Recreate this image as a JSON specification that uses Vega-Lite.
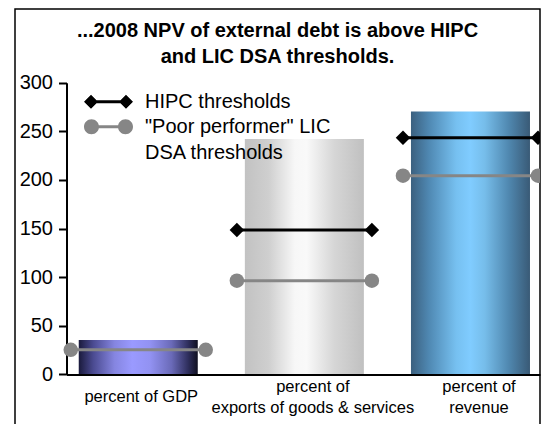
{
  "$schema": "https://vega.github.io/schema/vega-lite/v6.json",
  "autosize": {"type": "none"},
  "padding": {"left": 15, "top": 9, "right": 4, "bottom": 0},
  "width": 525,
  "height": 415,
  "background": "#ffffff",
  "config": {
    "font": "Liberation Sans",
    "view": {"stroke": "#000000", "strokeWidth": 1.5, "strokeDash": [940, 525, 415]},
    "axis": {"grid": false, "labelFont": "Liberation Sans", "labelColor": "#000000", "domainColor": "#000000", "tickColor": "#000000"},
    "style": {"guide-label": {"lineHeight": 26.5}}
  },
  "title": {
    "text": ["...2008 NPV of external debt is above HIPC", "and LIC DSA thresholds."],
    "font": "Liberation Sans",
    "fontSize": 20,
    "fontWeight": "bold",
    "color": "#000000",
    "anchor": "middle",
    "frame": "group",
    "lineHeight": 26,
    "offset": -58
  },
  "datasets": {
    "npv": [
      {"measure": "percent of GDP", "label": "percent of GDP", "npv": 35.4},
      {"measure": "percent of exports of goods & services", "label": "percent of\nexports of goods & services", "npv": 242},
      {"measure": "percent of revenue", "label": "percent of\nrevenue", "npv": 270.5}
    ],
    "thresholds": [
      {"measure": "percent of GDP", "series": "\"Poor performer\" LIC DSA thresholds", "threshold": 25.3},
      {"measure": "percent of exports of goods & services", "series": "HIPC thresholds", "threshold": 148.5},
      {"measure": "percent of exports of goods & services", "series": "\"Poor performer\" LIC DSA thresholds", "threshold": 96.4},
      {"measure": "percent of revenue", "series": "HIPC thresholds", "threshold": 243.4},
      {"measure": "percent of revenue", "series": "\"Poor performer\" LIC DSA thresholds", "threshold": 204.4}
    ]
  },
  "encoding": {
    "x": {
      "field": "measure",
      "type": "nominal",
      "sort": null,
      "scale": {"range": [51.5, 525], "paddingInner": 0.2835, "paddingOuter": 0.067, "align": 0.55},
      "axis": {
        "title": null,
        "orient": "bottom",
        "offset": -49.6,
        "zindex": 1,
        "ticks": false,
        "labels": false,
        "domainWidth": 2
      }
    },
    "y": {
      "type": "quantitative",
      "scale": {"domain": [0, 300], "range": [365.4, 73.7], "nice": false, "zero": true},
      "axis": {
        "title": null,
        "offset": -51.5,
        "values": [0, 50, 100, 150, 200, 250, 300],
        "domainWidth": 2,
        "tickWidth": 2,
        "tickSize": 8,
        "labelFontSize": 20,
        "labelPadding": 6,
        "labelBaseline": "middle"
      }
    }
  },
  "layer": [
    {
      "data": {"name": "npv"},
      "transform": [{"filter": "datum.measure == 'percent of GDP'"}],
      "mark": {
        "type": "bar",
        "color": {
          "gradient": "linear", "x1": 0, "x2": 1, "y1": 0, "y2": 0,
          "stops": [
            {"offset": 0, "color": "#1a1a3c"},
            {"offset": 0.12, "color": "#4a4a90"},
            {"offset": 0.3, "color": "#8585e0"},
            {"offset": 0.45, "color": "#9a9aff"},
            {"offset": 0.6, "color": "#9292f2"},
            {"offset": 0.78, "color": "#6a6ab8"},
            {"offset": 0.92, "color": "#2e2e5c"},
            {"offset": 1, "color": "#101020"}
          ]
        }
      },
      "encoding": {"y": {"field": "npv", "type": "quantitative"}}
    },
    {
      "data": {"name": "npv"},
      "transform": [{"filter": "datum.measure == 'percent of exports of goods & services'"}],
      "mark": {
        "type": "bar",
        "color": {
          "gradient": "linear", "x1": 0, "x2": 1, "y1": 0, "y2": 0,
          "stops": [
            {"offset": 0, "color": "#c2c2c2"},
            {"offset": 0.2, "color": "#cfcfcf"},
            {"offset": 0.42, "color": "#f7f7f7"},
            {"offset": 0.52, "color": "#f9f9f9"},
            {"offset": 0.75, "color": "#d6d6d6"},
            {"offset": 1, "color": "#c0c0c0"}
          ]
        }
      },
      "encoding": {"y": {"field": "npv", "type": "quantitative"}}
    },
    {
      "data": {"name": "npv"},
      "transform": [{"filter": "datum.measure == 'percent of revenue'"}],
      "mark": {
        "type": "bar",
        "color": {
          "gradient": "linear", "x1": 0, "x2": 1, "y1": 0, "y2": 0,
          "stops": [
            {"offset": 0, "color": "#3b607f"},
            {"offset": 0.15, "color": "#4f88b2"},
            {"offset": 0.38, "color": "#76c0f0"},
            {"offset": 0.5, "color": "#80ccff"},
            {"offset": 0.62, "color": "#76bdea"},
            {"offset": 0.82, "color": "#5088b0"},
            {"offset": 1, "color": "#395a76"}
          ]
        }
      },
      "encoding": {"y": {"field": "npv", "type": "quantitative"}}
    },
    {
      "data": {"name": "npv"},
      "transform": [{"filter": "datum.measure == 'percent of GDP'"}],
      "mark": {"type": "text", "font": "Liberation Sans", "fontSize": 16.5, "color": "#000000", "baseline": "middle", "align": "center", "dx": 3, "dy": 22.6},
      "encoding": {"y": {"datum": 0}, "text": {"field": "label", "type": "nominal"}}
    },
    {
      "data": {"name": "npv"},
      "transform": [{"filter": "datum.measure != 'percent of GDP'"}],
      "mark": {"type": "text", "font": "Liberation Sans", "fontSize": 16.5, "color": "#000000", "baseline": "middle", "align": "center", "dx": 8.5, "dy": 12.3, "lineBreak": "\n", "lineHeight": 21.3},
      "encoding": {"y": {"datum": 0}, "text": {"field": "label", "type": "nominal"}}
    },
    {
      "data": {"name": "thresholds"},
      "mark": {"type": "tick", "size": 135, "thickness": 3, "opacity": 1, "clip": true},
      "encoding": {
        "y": {"field": "threshold", "type": "quantitative"},
        "color": {"condition": {"test": "datum.series == 'HIPC thresholds'", "value": "#000000"}, "value": "#868686"}
      }
    },
    {
      "data": {"name": "thresholds"},
      "mark": {"type": "point", "filled": true, "opacity": 1, "size": 210, "xOffset": -67.5, "clip": true},
      "encoding": {
        "y": {"field": "threshold", "type": "quantitative"},
        "color": {"condition": {"test": "datum.series == 'HIPC thresholds'", "value": "#000000"}, "value": "#868686"},
        "shape": {"condition": {"test": "datum.series == 'HIPC thresholds'", "value": "diamond"}, "value": "circle"}
      }
    },
    {
      "data": {"name": "thresholds"},
      "mark": {"type": "point", "filled": true, "opacity": 1, "size": 210, "xOffset": 67.5, "clip": true},
      "encoding": {
        "y": {"field": "threshold", "type": "quantitative"},
        "color": {"condition": {"test": "datum.series == 'HIPC thresholds'", "value": "#000000"}, "value": "#868686"},
        "shape": {"condition": {"test": "datum.series == 'HIPC thresholds'", "value": "diamond"}, "value": "circle"}
      }
    },
    {
      "data": {"name": "thresholds"},
      "mark": {"type": "point", "filled": true, "opacity": 1, "size": 0},
      "encoding": {
        "y": {"field": "threshold", "type": "quantitative"},
        "color": {
          "field": "series",
          "type": "nominal",
          "scale": {"domain": ["HIPC thresholds", "\"Poor performer\" LIC DSA thresholds"], "range": ["#000000", "#868686"]},
          "legend": {
            "title": null,
            "orient": "none",
            "legendX": 69,
            "legendY": 82.7,
            "padding": 0,
            "rowPadding": 5,
            "clipHeight": 20,
            "symbolSize": 2401,
            "symbolStrokeWidth": 0,
            "symbolOpacity": 1,
            "labelFont": "Liberation Sans",
            "labelFontSize": 20,
            "labelColor": "#000000",
            "labelOffset": 12,
            "labelLimit": 400,
            "labelExpr": "datum.label == 'HIPC thresholds' ? datum.label : [slice(datum.label, 0, 20), slice(datum.label, 21)]"
          }
        },
        "shape": {
          "field": "series",
          "type": "nominal",
          "scale": {
            "domain": ["HIPC thresholds", "\"Poor performer\" LIC DSA thresholds"],
            "range": [
              "M-0.714,-0.061L0.714,-0.061L0.714,0.061L-0.714,0.061ZM-1,0L-0.714,-0.286L-0.428,0L-0.714,0.286ZM0.428,0L0.714,-0.286L1,0L0.714,0.286Z",
              "M-0.694,-0.061L0.694,-0.061L0.694,0.061L-0.694,0.061ZM-1,0A0.306,0.306,0,1,1,-0.388,0A0.306,0.306,0,1,1,-1,0ZM0.388,0A0.306,0.306,0,1,1,1,0A0.306,0.306,0,1,1,0.388,0Z"
            ]
          },
          "legend": {
            "title": null,
            "orient": "none",
            "legendX": 69,
            "legendY": 82.7,
            "padding": 0,
            "rowPadding": 5,
            "clipHeight": 20,
            "symbolSize": 2401,
            "symbolStrokeWidth": 0,
            "symbolOpacity": 1,
            "labelFont": "Liberation Sans",
            "labelFontSize": 20,
            "labelColor": "#000000",
            "labelOffset": 12,
            "labelLimit": 400,
            "labelExpr": "datum.label == 'HIPC thresholds' ? datum.label : [slice(datum.label, 0, 20), slice(datum.label, 21)]"
          }
        }
      }
    }
  ]
}
